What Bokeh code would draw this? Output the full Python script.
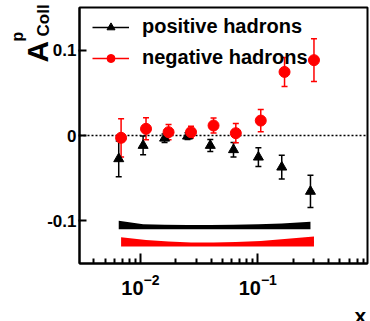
import numpy as np
from bokeh.plotting import figure
from bokeh.models import (ColumnDataSource, Whisker, TeeHead, Label, Legend, LegendItem,
                          FixedTicker, Range1d, LogAxis, LinearAxis, BoxAnnotation)
from bokeh.embed import file_html
from bokeh.resources import INLINE

# ---- data ----
pos_x = [0.00654, 0.01055, 0.01607, 0.0252, 0.0394, 0.0621, 0.1012, 0.160, 0.281]
pos_y = [-0.0273, -0.0117, -0.0032, -0.0008, -0.0117, -0.0167, -0.0254, -0.0371, -0.0655]
pos_err = [0.021, 0.011, 0.005, 0.004, 0.007, 0.0085, 0.011, 0.014, 0.019]
pos_syst = [0.0101, 0.0059, 0.0053, 0.0050, 0.0050, 0.0053, 0.0059, 0.0070, 0.0089]

neg_x = [0.00685, 0.01117, 0.01738, 0.0270, 0.0420, 0.0650, 0.106, 0.169, 0.301]
neg_y = [-0.0027, 0.0078, 0.0039, 0.0039, 0.0117, 0.0027, 0.0175, 0.0745, 0.0883]
neg_err = [0.0224, 0.0129, 0.009, 0.0068, 0.0088, 0.0113, 0.0131, 0.017, 0.025]
neg_syst = [0.0108, 0.0076, 0.0058, 0.0047, 0.0047, 0.0053, 0.0064, 0.0088, 0.0117]

series_labels = ["positive hadrons", "negative hadrons"]
y_ticks = [-0.1, 0, 0.1]
y_tick_labels = ["-0.1", "0", "0.1"]
x_major = [0.01, 0.1]

# plotted region (axis limits)
X0, X1 = 0.00303, 0.86
Y0, Y1 = -0.15, 0.15
x_minor = [m * d for d in (0.001, 0.01, 0.1) for m in range(2, 10) if X0 < m * d < X1]

FONT = "Liberation Sans"
POS_BAND_BASE = -0.110
NEG_BAND_BASE = -0.130
NAN = float("nan")

# canvas geometry: the whole canvas is the frame; the axis box sits inside it
W, H = 370, 321
BOX_L, BOX_R, BOX_T, BOX_B = 79, 367, 7, 263
lx0, lx1 = np.log10(X0), np.log10(X1)
dpx = (lx1 - lx0) / (BOX_R - BOX_L)
xr = (10 ** (lx0 - BOX_L * dpx), 10 ** (lx1 + (W - BOX_R) * dpx))
dpy = (Y1 - Y0) / (BOX_B - BOX_T)
yr = (Y0 - (H - BOX_B) * dpy, Y1 + BOX_T * dpy)

p = figure(width=W, height=H, x_axis_type="log",
           x_axis_location=None, y_axis_location=None,
           x_range=Range1d(*xr), y_range=Range1d(*yr),
           output_backend="svg", toolbar_location=None,
           min_border_left=0, min_border_right=0, min_border_top=0, min_border_bottom=0,
           background_fill_color="white", border_fill_color="white")
p.grid.visible = False
p.outline_line_alpha = 0

# axes fixed on the box edges
xaxis = LogAxis(fixed_location=Y0, bounds=(X0, X1),
                ticker=FixedTicker(ticks=x_major, minor_ticks=x_minor))
yaxis = LinearAxis(fixed_location=X0, bounds=(Y0, Y1),
                   ticker=FixedTicker(ticks=y_ticks),
                   major_label_overrides={t: l for t, l in zip(y_ticks, y_tick_labels)})
for ax in (xaxis, yaxis):
    ax.axis_line_width = 2
    ax.major_tick_line_width = 2
    ax.minor_tick_line_width = 2
    ax.major_label_text_font = FONT
    ax.major_label_text_font_style = "bold"
    ax.major_label_text_color = "black"
xaxis.major_tick_in = 10
xaxis.major_tick_out = 0
xaxis.minor_tick_in = 5
xaxis.minor_tick_out = 0
xaxis.major_label_text_font_size = "20px"
xaxis.major_label_standoff = 10
yaxis.major_tick_in = 7
yaxis.major_tick_out = 1
yaxis.minor_tick_in = 0
yaxis.minor_tick_out = 0
yaxis.major_label_text_font_size = "17px"
yaxis.major_label_standoff = 2
p.add_layout(xaxis, "below")
p.add_layout(yaxis, "left")

# box outline
p.add_layout(BoxAnnotation(left=X0, right=X1, bottom=Y0, top=Y1, fill_alpha=0,
                           line_color="black", line_width=2, line_alpha=1))

# systematic bands
p.varea(x=pos_x, y1=[POS_BAND_BASE] * len(pos_x),
        y2=[POS_BAND_BASE + s for s in pos_syst], fill_color="black")
p.varea(x=neg_x, y1=[NEG_BAND_BASE] * len(neg_x),
        y2=[NEG_BAND_BASE + s for s in neg_syst], fill_color="red")

# zero line across the box
p.line(x=[X0, X1], y=[0, 0], line_color="black", line_dash="2 2", line_width=1.5)

def add_series(xs, ys, errs, color, marker, size):
    src = ColumnDataSource(dict(x=xs, y=ys,
                                lo=[y - e for y, e in zip(ys, errs)],
                                hi=[y + e for y, e in zip(ys, errs)]))
    w = Whisker(source=src, base="x", lower="lo", upper="hi", dimension="height",
                line_color=color, line_width=1.5,
                upper_head=TeeHead(size=6, line_color=color, line_width=1.5),
                lower_head=TeeHead(size=6, line_color=color, line_width=1.5))
    p.add_layout(w)
    sc = p.scatter("x", "y", source=src, marker=marker, size=size,
                   fill_color=color, line_color=color)
    ln = p.line(x=[NAN], y=[NAN], line_color=color, line_width=1.5)
    return sc, ln

sc_pos, ln_pos = add_series(pos_x, pos_y, pos_err, "black", "triangle", 10)
sc_neg, ln_neg = add_series(neg_x, neg_y, neg_err, "red", "circle", 11)

legend = Legend(items=[LegendItem(label=series_labels[0], renderers=[ln_pos, sc_pos]),
                       LegendItem(label=series_labels[1], renderers=[ln_neg, sc_neg])],
                location=(92, 252), margin=0, padding=0, spacing=8,
                glyph_width=37, glyph_height=20, label_height=20, label_standoff=13,
                label_text_font=FONT, label_text_font_style="bold",
                label_text_font_size="20px", label_text_color="black",
                border_line_alpha=0, background_fill_alpha=0)
p.add_layout(legend)

# axis titles
def lab(text, x, y, size, angle=0.0):
    p.add_layout(Label(text=text, x=x, y=y, x_units="screen", y_units="screen",
                       angle=angle, text_font=FONT, text_font_style="bold",
                       text_font_size=size, text_color="black",
                       text_align="left", text_baseline="alphabetic"))

lab("A", 37, 259, "30px", np.pi / 2)
lab("p", 17, 280, "16px", np.pi / 2)
lab("Coll", 43, 285, "17px", np.pi / 2)
lab("x", 354, 6, "21px")

open("out.html", "w").write(file_html(p, INLINE))
